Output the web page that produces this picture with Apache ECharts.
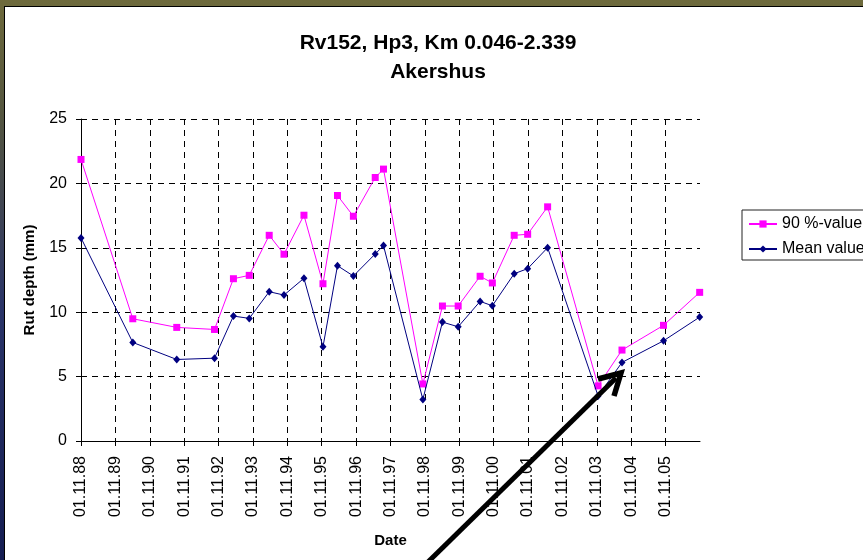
<!DOCTYPE html>
<html>
<head>
<meta charset="utf-8">
<script src="https://cdn.jsdelivr.net/npm/echarts@6/dist/echarts.min.js"></script>
<style>
  html, body { margin: 0; padding: 0; }
  body {
    width: 863px; height: 560px; overflow: hidden; position: relative;
    background: linear-gradient(to bottom, #6e6a3c 0%, #55563f 20%, #2a3468 55%, #151d52 100%);
  }
  #panel {
    position: absolute; left: 4px; top: 6px; width: 859px; height: 554px;
    background: #ffffff; border-left: 1px solid #000; border-top: 1px solid #000;
  }
  #chart { position: absolute; left: 0; top: 0; width: 863px; height: 560px; }
</style>
</head>
<body>
<div id="panel"></div>
<div id="chart"></div>
<script>
// ---- data ----
const measureDates = [
  '1988-11-01', '1990-05-05', '1991-08-15', '1992-09-19', '1993-04-08', '1993-09-23',
  '1994-04-23', '1994-09-27', '1995-04-27', '1995-11-15', '1996-04-17', '1996-10-03',
  '1997-05-23', '1997-08-19', '1998-10-11', '1999-05-07', '1999-10-21', '2000-06-10',
  '2000-10-18', '2001-06-07', '2001-10-28', '2002-05-28', '2003-11-15', '2004-07-26',
  '2005-10-10', '2006-10-29'
];
const value90 = [
  21.86, 9.49, 8.82, 8.66, 12.60, 12.86, 15.97, 14.50, 17.53, 12.21, 19.06, 17.45,
  20.46, 21.11, 4.43, 10.48, 10.48, 12.79, 12.27, 15.97, 16.05, 18.18, 4.28, 7.06,
  8.98, 11.54
];
const meanValue = [
  15.77, 7.65, 6.33, 6.43, 9.70, 9.52, 11.59, 11.33, 12.63, 7.31, 13.61, 12.81,
  14.52, 15.17, 3.22, 9.23, 8.87, 10.84, 10.50, 12.99, 13.38, 15.01, 3.50, 6.10,
  7.78, 9.62
];
const tickLabels = [
  '01.11.88', '01.11.89', '01.11.90', '01.11.91', '01.11.92', '01.11.93',
  '01.11.94', '01.11.95', '01.11.96', '01.11.97', '01.11.98', '01.11.99',
  '01.11.00', '01.11.01', '01.11.02', '01.11.03', '01.11.04', '01.11.05'
];
const seriesNames = ['90 %-value', 'Mean value'];
const titleLines = ['Rv152, Hp3, Km 0.046-2.339', 'Akershus'];

// axis origin = first tick date; x measured in years since it
const origin = Date.parse('1988-11-01T00:00:00Z');
const yearMs = 365.25 * 86400000;
const toX = d => (Date.parse(d + 'T00:00:00Z') - origin) / yearMs;
const xs = measureDates.map(toX);

const FONT = '"Liberation Sans", Arial, sans-serif';
const chart = echarts.init(document.getElementById('chart'), null, { renderer: 'canvas' });

chart.setOption({
  backgroundColor: 'transparent',
  animation: false,
  textStyle: { fontFamily: FONT },
  grid: { left: 81, top: 119, right: 163, bottom: 119, containLabel: false },
  legend: {
    orient: 'vertical',
    left: 742, top: 210,
    padding: [6, 12, 3, 6],
    itemGap: 9,
    itemWidth: 28, itemHeight: 9,
    borderColor: '#222', borderWidth: 1,
    backgroundColor: '#fff',
    textStyle: { fontFamily: FONT, fontSize: 16, color: '#000' },
    data: seriesNames
  },
  xAxis: {
    type: 'value',
    min: 0, max: 18, interval: 1,
    name: 'Date',
    nameLocation: 'middle',
    nameGap: 92,
    nameTextStyle: { fontFamily: FONT, fontSize: 15, fontWeight: 'bold', color: '#000' },
    axisLine: { onZero: false, lineStyle: { color: '#000', width: 1 } },
    axisTick: { show: true, length: 5, lineStyle: { color: '#000' } },
    axisLabel: {
      rotate: 90, margin: 15, fontSize: 16, color: '#000', fontFamily: FONT,
      showMaxLabel: false,
      formatter: v => (Number.isInteger(v) && tickLabels[v]) ? tickLabels[v] : ''
    },
    splitLine: {
      show: true, showMinLine: false, showMaxLine: false,
      lineStyle: { color: '#000', type: [6, 5], width: 1 }
    }
  },
  yAxis: {
    type: 'value',
    min: 0, max: 25, interval: 5,
    name: 'Rut depth (mm)',
    nameLocation: 'middle',
    nameGap: 44,
    nameTextStyle: { fontFamily: FONT, fontSize: 15, fontWeight: 'bold', color: '#000' },
    axisLine: { show: true, lineStyle: { color: '#000', width: 1 } },
    axisTick: { show: true, length: 5, lineStyle: { color: '#000' } },
    axisLabel: { margin: 14, fontSize: 16, color: '#000', fontFamily: FONT },
    splitLine: {
      show: true, showMinLine: false,
      lineStyle: { color: '#000', type: [6, 5], width: 1 }
    }
  },
  series: [
    {
      name: seriesNames[0], type: 'line',
      data: xs.map((x, i) => [x, value90[i]]),
      symbol: 'rect', symbolSize: 7,
      lineStyle: { color: '#ff00ff', width: 1 },
      itemStyle: { color: '#ff00ff' },
      z: 3
    },
    {
      name: seriesNames[1], type: 'line',
      data: xs.map((x, i) => [x, meanValue[i]]),
      symbol: 'diamond', symbolSize: [7, 8],
      lineStyle: { color: '#000080', width: 1 },
      itemStyle: { color: '#000080' },
      z: 4
    }
  ],
  graphic: [
    {
      type: 'text', x: 438, y: 43,
      style: { text: titleLines[0], font: 'bold 21px ' + FONT, fill: '#000', align: 'center', verticalAlign: 'middle' }
    },
    {
      type: 'text', x: 438, y: 72,
      style: { text: titleLines[1], font: 'bold 21px ' + FONT, fill: '#000', align: 'center', verticalAlign: 'middle' }
    },
    {
      type: 'polyline', z: 100,
      shape: { points: [[428, 562], [616, 378]] },
      style: { stroke: '#000', lineWidth: 5, lineCap: 'butt' }
    },
    {
      type: 'polyline', z: 100,
      shape: { points: [[598, 379], [621, 373], [614, 396]] },
      style: { stroke: '#000', lineWidth: 5.5, fill: null, lineJoin: 'miter', lineCap: 'butt' }
    }
  ]
});
</script>
</body>
</html>
